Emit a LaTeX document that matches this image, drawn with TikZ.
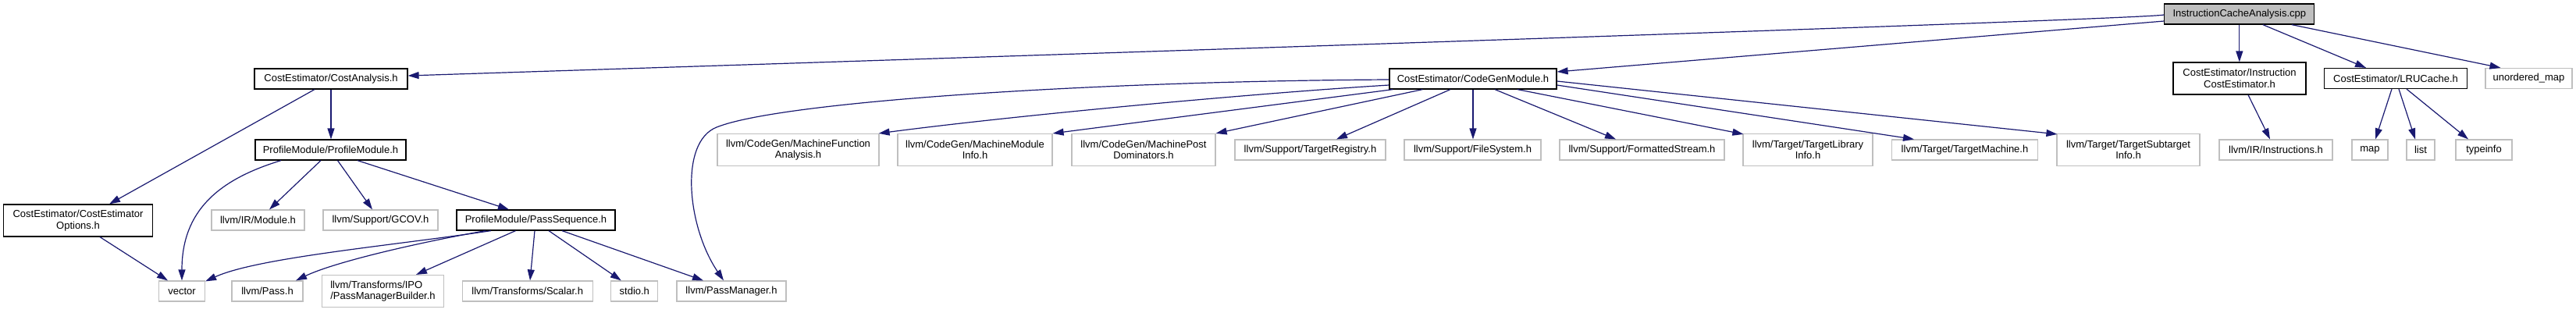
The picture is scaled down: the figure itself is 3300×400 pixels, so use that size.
\documentclass[tikz,border=0pt]{standalone}
\usepackage{fontspec}
\setmainfont{Liberation Sans}
\usetikzlibrary{arrows.meta,calc}
\definecolor{edgeblue}{HTML}{191970}
\definecolor{greyseventyfive}{HTML}{BFBFBF}
\newcommand{\nodefont}{\fontsize{13}{14.5}\selectfont}
\begin{document}
\begin{tikzpicture}[x=1pt,y=-1pt,
  box/.style={draw, line width=1.2pt, minimum height=26pt, inner sep=0pt, font=\nodefont, align=center},
  doc/.style={box, draw=black, fill=white},
  ext/.style={box, draw=greyseventyfive, fill=white},
  rootbox/.style={box, draw=black, fill=greyseventyfive},
  tall/.style={minimum height=41pt},
  dep/.style={draw=edgeblue, line width=1.2pt, -{Triangle[length=14pt,width=9pt]}}]
\useasboundingbox (0,0) rectangle (3300,400);

% row 0
\node[rootbox, minimum width=192pt] (cpp) at (2868.8,18) {InstructionCacheAnalysis.cpp};
% row 1
\node[doc, minimum width=196pt] (costan) at (424,101) {CostEstimator/CostAnalysis.h};
\node[doc, minimum width=214pt] (codegen) at (1887,101) {CostEstimator/CodeGenModule.h};
\node[doc, tall, minimum width=170pt] (ice) at (2869,100.5) {CostEstimator/Instruction\\CostEstimator.h};
\node[doc, minimum width=183pt] (lru) at (3069,100.5) {CostEstimator/LRUCache.h};
\node[ext, minimum width=111pt] (umap) at (3239.5,100.5) {unordered\_map};
% row 2
\node[doc, minimum width=193pt] (pm) at (423.5,192) {ProfileModule/ProfileModule.h};
\node[ext, tall, minimum width=207pt] (mfa) at (1022.5,192) {llvm/CodeGen/MachineFunction\\Analysis.h};
\node[ext, tall, minimum width=198pt] (mmi) at (1249,192) {llvm/CodeGen/MachineModule\\Info.h};
\node[ext, tall, minimum width=184pt] (mpd) at (1465,192) {llvm/CodeGen/MachinePost\\Dominators.h};
\node[ext, minimum width=193pt] (treg) at (1678.5,192) {llvm/Support/TargetRegistry.h};
\node[ext, minimum width=175pt] (fsys) at (1886.5,192) {llvm/Support/FileSystem.h};
\node[ext, minimum width=211pt] (fstream) at (2103.5,192) {llvm/Support/FormattedStream.h};
\node[ext, tall, minimum width=166pt] (tli) at (2316,192) {llvm/Target/TargetLibrary\\Info.h};
\node[ext, minimum width=187pt] (tm) at (2517,192) {llvm/Target/TargetMachine.h};
\node[ext, tall, minimum width=183pt] (tsi) at (2726.5,192) {llvm/Target/TargetSubtarget\\Info.h};
\node[ext, minimum width=145pt] (instr) at (2915.5,192) {llvm/IR/Instructions.h};
\node[ext, minimum width=46pt] (map) at (3036,192) {map};
\node[ext, minimum width=36pt] (list) at (3101,192) {list};
\node[ext, minimum width=72pt] (tinfo) at (3182,192) {typeinfo};
% row 3
\node[doc, tall, minimum width=191pt] (ceo) at (100,282.5) {CostEstimator/CostEstimator\\Options.h};
\node[ext, minimum width=119pt] (module) at (330.5,282) {llvm/IR/Module.h};
\node[ext, minimum width=147pt] (gcov) at (487.5,282) {llvm/Support/GCOV.h};
\node[doc, minimum width=203pt] (passseq) at (686.5,282) {ProfileModule/PassSequence.h};
% row 4
\node[ext, minimum width=59pt] (vector) at (233,373) {vector};
\node[ext, minimum width=91pt] (pass) at (342.5,373) {llvm/Pass.h};
\node[ext, tall, minimum width=156pt, align=left] (pmb) at (490.5,373) {llvm/Transforms/IPO\\/PassManagerBuilder.h};
\node[ext, minimum width=167pt] (scalar) at (675.7,373) {llvm/Transforms/Scalar.h};
\node[ext, minimum width=60pt] (stdio) at (812.8,373) {stdio.h};
\node[ext, minimum width=140pt] (passmgr) at (937,373) {llvm/PassManager.h};

% edges from the root
\draw[dep] ($(cpp.west)+(0,1)$) .. controls (2745,25) and (1200,75) .. ($(costan.east)+(0,-4)$);
\draw[dep] ($(cpp.west)+(0,9)$) -- ($(codegen.east)+(0,-9)$);
\draw[dep] (cpp.south) -- (cpp.south |- ice.north);
\draw[dep] ($(cpp.south)+(30,0)$) -- ($(lru.north)+(-38,0)$);
\draw[dep] ($(cpp.south)+(67,0)$) -- ($(umap.north)+(-36,0)$);

% CostAnalysis
\draw[dep] (costan.south) -- (costan.south |- pm.north);
\draw[dep] ($(costan.south)+(-21,0)$) -- ($(ceo.north)+(40,0)$);

% CodeGenModule
\draw[dep] ($(codegen.west)+(0,1)$) .. controls (1400,104) and (1000,130) .. (918,163)
  .. controls (870,182) and (880,290) .. ($(passmgr.north)+(-10,0)$);
\draw[dep] ($(codegen.west)+(0,8)$) .. controls (1600,120) and (1300,148) .. ($(mfa.north east)+(-1,0)$);
\draw[dep] ($(codegen.south west)+(5,0)$) -- (mmi.north east);
\draw[dep] ($(codegen.south west)+(43,0)$) -- (mpd.north east);
\draw[dep] ($(codegen.south)+(-29,0)$) -- ($(treg.north)+(33.5,0)$);
\draw[dep] (codegen.south) -- (codegen.south |- fsys.north);
\draw[dep] ($(codegen.south)+(28,0)$) -- ($(fstream.north)+(-33.5,0)$);
\draw[dep] ($(codegen.south)+(57,0)$) -- ($(tli.north west)+(1,1)$);
\draw[dep] ($(codegen.east)+(0,8)$) -- ($(tm.north)+(-65,0)$);
\draw[dep] ($(codegen.east)+(0,3)$) -- ($(tsi.north west)+(1,1)$);

% InstructionCostEstimator, LRUCache
\draw[dep] ($(ice.south)+(11,0)$) -- ($(instr.north)+(-7.5,0)$);
\draw[dep] ($(lru.south)+(-5,0)$) -- ($(map.north)+(7,0)$);
\draw[dep] ($(lru.south)+(4,0)$) -- ($(list.north)+(-7,0)$);
\draw[dep] ($(lru.south)+(14,0)$) -- ($(tinfo.north)+(-20,0)$);

% ProfileModule
\draw[dep] ($(pm.south)+(-63.5,0)$) .. controls (280,230) and (233,270) .. (vector.north);
\draw[dep] ($(pm.south)+(-12.5,0)$) -- ($(module.north)+(14.5,0)$);
\draw[dep] ($(pm.south)+(9,0)$) -- ($(gcov.north)+(-10.5,0)$);
\draw[dep] ($(pm.south)+(34.5,0)$) -- ($(passseq.north)+(-34.5,0)$);

% CostEstimatorOptions
\draw[dep] ($(ceo.south)+(28,0)$) -- ($(vector.north)+(-18,0)$);

% PassSequence
\draw[dep] ($(passseq.south)+(-57.5,0)$) .. controls (500,315) and (330,330) .. ($(vector.north east)+(0,1)$);
\draw[dep] ($(passseq.south)+(-64.5,0)$) .. controls (540,310) and (430,335) .. ($(pass.north)+(36.5,0)$);
\draw[dep] ($(passseq.south)+(-26,0)$) -- ($(pmb.north)+(42.5,0)$);
\draw[dep] ($(passseq.south)+(-1.5,0)$) -- ($(scalar.north)+(3.3,0)$);
\draw[dep] ($(passseq.south)+(16.5,0)$) -- ($(stdio.north)+(-17,0)$);
\draw[dep] ($(passseq.south)+(33.5,0)$) -- ($(passmgr.north)+(-36,0)$);
\end{tikzpicture}
\end{document}
